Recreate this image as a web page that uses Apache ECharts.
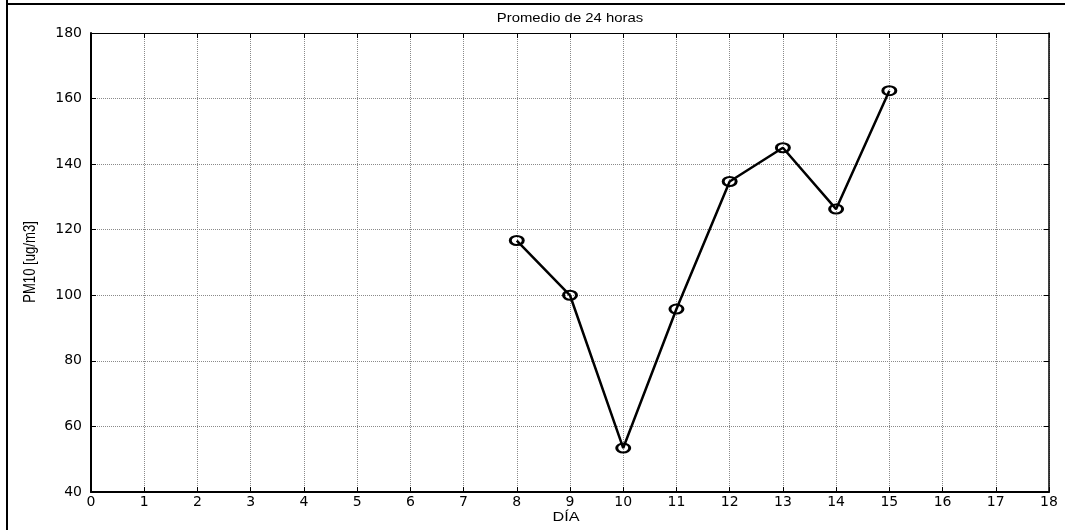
<!DOCTYPE html>
<html>
<head>
<meta charset="utf-8">
<script src="https://cdn.jsdelivr.net/npm/echarts@6/dist/echarts.min.js"></script>
<style>
  html, body { margin: 0; padding: 0; background: #fff; }
  #chart { width: 1065px; height: 530px; }
</style>
</head>
<body>
<div id="chart"></div>
<script>
// Daily 24-hour PM10 averages
const days = [8, 9, 10, 11, 12, 13, 14, 15];
const pm10 = [116.7, 100.0, 53.4, 95.8, 134.7, 145.0, 126.3, 162.4];

const xTicks = { min: 0, max: 18, interval: 1 };
const yTicks = { min: 40, max: 180, interval: 20 };

const FONT = '"Liberation Sans", Arial, Helvetica, sans-serif';
const TICK_FONT = '"DejaVu Sans", "Liberation Sans", sans-serif';

const chart = echarts.init(document.getElementById('chart'), null, { renderer: 'canvas' });

const gridLine = { show: true, lineStyle: { color: '#8a8a8a', type: [1, 1], width: 1 } };
const tickIn = { show: true, inside: true, length: 5, lineStyle: { color: '#000', width: 1 } };

chart.setOption({
  animation: false,
  backgroundColor: '#fff',
  graphic: [
    // figure frame
    { type: 'line', shape: { x1: 7, y1: 0, x2: 7, y2: 530 }, style: { stroke: '#000', lineWidth: 2 } },
    { type: 'line', shape: { x1: 6, y1: 4, x2: 1065, y2: 4 }, style: { stroke: '#000', lineWidth: 2 } },
    // title
    {
      type: 'text', x: 570, y: 19, scaleX: 1.24,
      style: { text: 'Promedio de 24 horas', font: '12px ' + FONT, fill: '#000', align: 'center', verticalAlign: 'middle' }
    },
    // x axis name
    {
      type: 'text', x: 566, y: 518, scaleX: 1.35,
      style: { text: 'DÍA', font: '12px ' + FONT, fill: '#000', align: 'center', verticalAlign: 'middle' }
    },
    // y axis name
    {
      type: 'text', x: 31, y: 262, rotation: Math.PI / 2, scaleX: 0.82,
      style: { text: 'PM10 [ug/m3]', font: '16px ' + FONT, fill: '#000', align: 'center', verticalAlign: 'middle' }
    }
  ],
  grid: { left: 91, right: 16, top: 33, bottom: 38, containLabel: false },
  xAxis: [
    {
      type: 'value', position: 'bottom', min: xTicks.min, max: xTicks.max, interval: xTicks.interval,
      axisLine: { show: true, onZero: false, lineStyle: { color: '#000', width: 2 } },
      axisTick: tickIn,
      splitLine: gridLine,
      axisLabel: { color: '#000', fontFamily: TICK_FONT, fontSize: 14, margin: 3 }
    },
    {
      type: 'value', position: 'top', min: xTicks.min, max: xTicks.max, interval: xTicks.interval,
      axisLine: { show: true, onZero: false, lineStyle: { color: '#000', width: 1 } },
      axisTick: tickIn,
      splitLine: { show: false },
      axisLabel: { show: false }
    }
  ],
  yAxis: [
    {
      type: 'value', position: 'left', min: yTicks.min, max: yTicks.max, interval: yTicks.interval,
      axisLine: { show: true, onZero: false, lineStyle: { color: '#000', width: 2 } },
      axisTick: tickIn,
      splitLine: gridLine,
      axisLabel: { color: '#000', fontFamily: TICK_FONT, fontSize: 14, margin: 9 }
    },
    {
      type: 'value', position: 'right', min: yTicks.min, max: yTicks.max, interval: yTicks.interval,
      axisLine: { show: true, onZero: false, lineStyle: { color: '#000', width: 1.5 } },
      axisTick: tickIn,
      splitLine: { show: false },
      axisLabel: { show: false }
    }
  ],
  series: [{
    type: 'line',
    data: days.map((d, i) => [d, pm10[i]]),
    xAxisIndex: 0, yAxisIndex: 0,
    lineStyle: { color: '#000', width: 2.5 },
    symbol: 'path://M0,5A7,5 0 1,0 14,5A7,5 0 1,0 0,5Z',
    symbolSize: [13, 9],
    itemStyle: { color: 'rgba(0,0,0,0)', borderColor: '#000', borderWidth: 2.5 },
    z: 5
  }]
});
</script>
</body>
</html>
